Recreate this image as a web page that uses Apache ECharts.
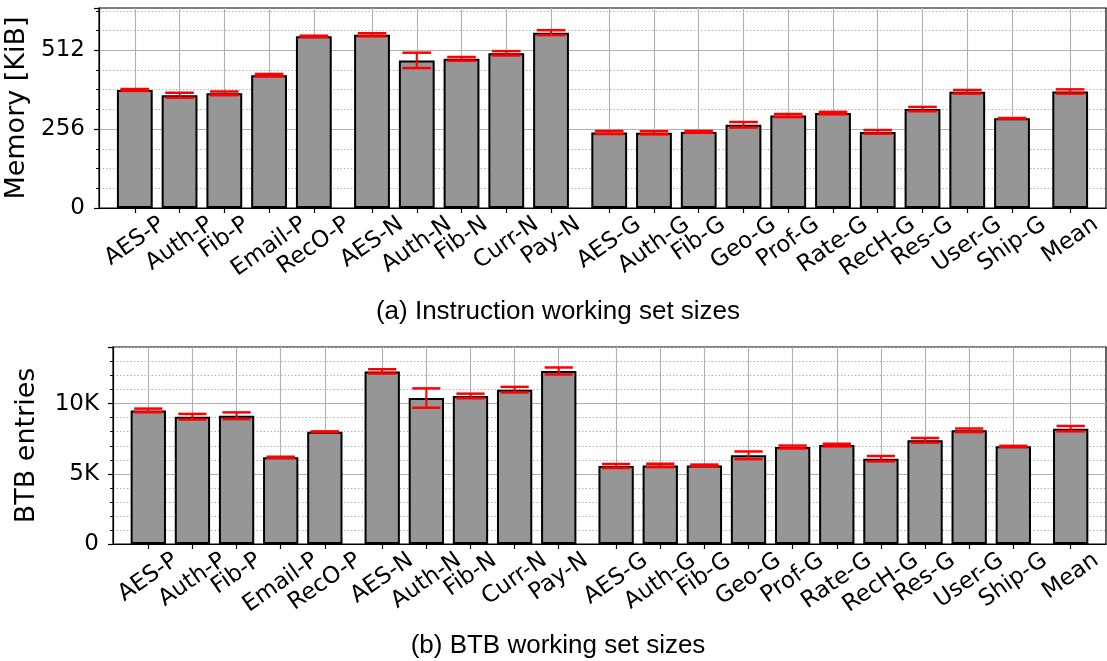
<!DOCTYPE html>
<html>
<head>
<meta charset="utf-8">
<script src="https://cdn.jsdelivr.net/npm/echarts@6/dist/echarts.min.js"></script>
<style>
  html, body { margin: 0; padding: 0; background: #fff; }
  #chart { width: 1107px; height: 661px; }
</style>
</head>
<body>
<div id="chart"></div>
<script>
// Workloads: Python (-P), Node.js (-N), Go (-G), then the overall mean
const categories = ['AES-P', 'Auth-P', 'Fib-P', 'Email-P', 'RecO-P',
  'AES-N', 'Auth-N', 'Fib-N', 'Curr-N', 'Pay-N',
  'AES-G', 'Auth-G', 'Fib-G', 'Geo-G', 'Prof-G', 'Rate-G', 'RecH-G', 'Res-G', 'User-G', 'Ship-G',
  'Mean'];
const groupSizes = [5, 5, 10, 1];

// (a) instruction working set, KiB (mean and +/- spread)
const memValues = [383, 366, 372, 431, 557, 562, 479, 484, 502, 569,
  245, 244, 247, 270, 300, 308, 247, 321, 377, 291, 378];
const memErr = [3, 8, 6, 4, 2, 5, 25, 6, 7, 8,
  5, 5, 3, 9, 5, 4, 6, 7, 6, 1, 7];
const memTicks = [0, 256, 512];

// (b) BTB working set, entries (mean and +/- spread)
const btbValues = [9520, 9070, 9140, 6180, 8000, 12300, 10400, 10550, 11000, 12330,
  5560, 5600, 5600, 6320, 6910, 7050, 6080, 7390, 8100, 6960, 8220];
const btbErr = [130, 200, 240, 40, 25, 155, 690, 165, 200, 250,
  140, 120, 60, 275, 105, 95, 190, 165, 130, 35, 190];
const btbTicks = [0, 5000, 10000];

const captions = ['(a) Instruction working set sizes', '(b) BTB working set sizes'];
const yNames = ['Memory [KiB]', 'BTB entries'];

// ---- layout / style ----
const GROUP_GAP = 0.3;
const X_MIN = -0.8;
const BAR_FRAC = 0.8;
const CAP_FRAC = 0.64;
const LABEL_ROT = 35 * Math.PI / 180;
const LABEL_SIZE = 23;
const SANS = 'DejaVu Sans';
const LABEL_FONT = LABEL_SIZE + 'px "' + SANS + '"';

// bar centres: one unit apart, an extra gap between language groups
const positions = [];
(function () {
  let p = 0;
  groupSizes.forEach(function (n) {
    for (let i = 0; i < n; i++) { positions.push(Math.round(p * 10) / 10); p += 1; }
    p += GROUP_GAP;
  });
})();
const X_MAX = positions[positions.length - 1] - X_MIN;

const grids = [
  { left: 99, top: 8, width: 1007, height: 200 },
  { left: 113, top: 347, width: 993, height: 197 }
];

const measureCtx = document.createElement('canvas').getContext('2d');
measureCtx.font = LABEL_FONT;

const gridLine = { color: '#b0b0b0', width: 1.1 };
const black = { color: '#000', width: 1.2 };

function xAxisFor(i) {
  return {
    type: 'value', gridIndex: i, min: X_MIN, max: X_MAX,
    axisLine: { show: true, onZero: false, lineStyle: black },
    axisTick: { show: true, customValues: positions, length: 5, lineStyle: black },
    axisLabel: { show: false, customValues: positions },
    splitLine: { show: true, lineStyle: gridLine }
  };
}

function yAxisFor(i, ticks, max, minorSplit, fmt, nameGap) {
  return {
    type: 'value', gridIndex: i, min: ticks[0], max: max, interval: ticks[1] - ticks[0],
    name: yNames[i], nameLocation: 'middle', nameGap: nameGap,
    nameTextStyle: { fontSize: 27, fontFamily: SANS, color: '#000' },
    axisLine: { show: true, onZero: false, lineStyle: black },
    axisTick: { show: true, length: 5, lineStyle: black },
    minorTick: { show: true, splitNumber: minorSplit, length: 3, lineStyle: { color: '#000', width: 1 } },
    axisLabel: {
      fontSize: LABEL_SIZE, fontFamily: SANS, color: '#000', margin: 14,
      showMaxLabel: false, formatter: fmt
    },
    splitLine: { show: true, showMinLine: false, showMaxLine: false, lineStyle: gridLine },
    minorSplitLine: { show: true, lineStyle: { color: '#b4b4b4', width: 1, type: [1.5, 2] } }
  };
}

function barSeries(i, values) {
  const g = grids[i];
  return {
    type: 'bar', xAxisIndex: i, yAxisIndex: i,
    data: positions.map(function (p, k) { return [p, values[k]]; }),
    barWidth: g.width / (X_MAX - X_MIN) * BAR_FRAC,
    itemStyle: { color: '#969696', borderColor: '#000', borderWidth: 2 },
    emphasis: { disabled: true },
    z: 2
  };
}

function errSeries(i, values, errs) {
  return {
    type: 'custom', xAxisIndex: i, yAxisIndex: i, z: 4,
    data: positions.map(function (p, k) { return [p, values[k] - errs[k], values[k] + errs[k]]; }),
    encode: { x: 0, y: [1, 2] },
    renderItem: function (params, api) {
      const x = api.value(0);
      const lo = api.coord([x, api.value(1)]);
      const hi = api.coord([x, api.value(2)]);
      const half = api.size([CAP_FRAC, 0])[0] / 2;
      const red = '#ff0000';
      return {
        type: 'group',
        children: [
          { type: 'line', shape: { x1: lo[0], y1: lo[1], x2: hi[0], y2: hi[1] }, style: { stroke: red, lineWidth: 2 } },
          { type: 'line', shape: { x1: lo[0] - half, y1: lo[1], x2: lo[0] + half, y2: lo[1] }, style: { stroke: red, lineWidth: 2.5 } },
          { type: 'line', shape: { x1: hi[0] - half, y1: hi[1], x2: hi[0] + half, y2: hi[1] }, style: { stroke: red, lineWidth: 2.5 } }
        ]
      };
    }
  };
}

// rotated category labels, each centred horizontally on its tick
function labelSeries(i) {
  return {
    type: 'custom', xAxisIndex: i, yAxisIndex: i, z: 5, silent: true,
    data: positions.map(function (p) { return [p, 0]; }),
    encode: { x: 0, y: 1 },
    renderItem: function (params, api) {
      const name = categories[params.dataIndex];
      const pt = api.coord([api.value(0), 0]);
      const w = measureCtx.measureText(name).width;
      const h = LABEL_SIZE * 0.75;
      const H = w * Math.sin(LABEL_ROT) + h * Math.cos(LABEL_ROT);
      return {
        type: 'text', x: pt[0], y: pt[1] + 7 + H / 2, rotation: LABEL_ROT,
        style: { text: name, font: LABEL_FONT, fill: '#000', align: 'center', verticalAlign: 'middle' }
      };
    }
  };
}

const plainFormat = function (v) { return String(v); };
const kFormat = function (v) { return v === 0 ? '0' : (v / 1000) + 'K'; };

const captionStyle = { fontFamily: 'Liberation Sans', fontSize: 26, fontWeight: 'normal', color: '#000' };

const option = {
  animation: false,
  backgroundColor: '#fff',
  title: [
    { text: captions[0], left: 553, top: 294, textAlign: 'center', textStyle: captionStyle },
    { text: captions[1], left: 553, top: 628, textAlign: 'center', textStyle: captionStyle }
  ],
  grid: grids.map(function (g) {
    return Object.assign({
      show: true, borderColor: '#000', borderWidth: 1.2, backgroundColor: 'transparent',
      containLabel: false, outerBoundsMode: 'none'
    }, g);
  }),
  xAxis: [xAxisFor(0), xAxisFor(1)],
  yAxis: [
    yAxisFor(0, memTicks, 649, 4, plainFormat, 56),
    yAxisFor(1, btbTicks, 14040, 5, kFormat, 73)
  ],
  series: [
    barSeries(0, memValues), errSeries(0, memValues, memErr), labelSeries(0),
    barSeries(1, btbValues), errSeries(1, btbValues, btbErr), labelSeries(1)
  ]
};

const chart = echarts.init(document.getElementById('chart'), null, { renderer: 'canvas' });
chart.setOption(option);
</script>
</body>
</html>
